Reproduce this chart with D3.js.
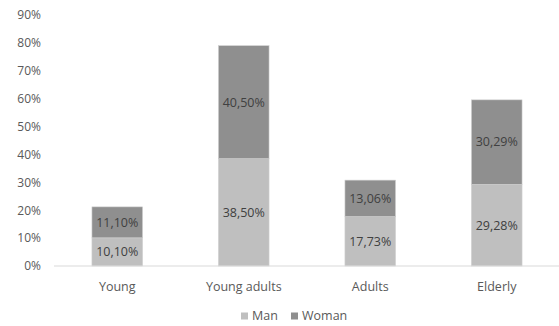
<!DOCTYPE html>
<html><head><meta charset="utf-8">
<script src="https://cdn.jsdelivr.net/npm/d3@7"></script>
<style>body{margin:0;background:#fff}svg{display:block}text{font-family:"Open Sans",sans-serif}</style>
</head><body><svg id="c" width="559" height="326"></svg>
<script>
const categories = ["Young", "Young adults", "Adults", "Elderly"];
const man = [10.10, 38.50, 17.73, 29.28];
const woman = [11.10, 40.50, 13.06, 30.29];
const seriesNames = ["Man", "Woman"];
const colors = ["#bfbfbf", "#8f8f8f"];
const yTicks = [0,10,20,30,40,50,60,70,80,90];

const svg = d3.select("#c");
const x = d3.scaleBand().domain(categories).range([54, 560]).paddingInner(0.6).paddingOuter(0.3);
const y = d3.scaleLinear().domain([0, 90]).range([266, 15]);

const fmt = v => v.toFixed(2).replace(".", ",") + "%";

// y axis labels
const yAxis = d3.axisLeft(y).tickValues(yTicks).tickFormat(d => d + "%").tickSize(0).tickPadding(0);
const gy = svg.append("g").attr("transform", "translate(41,0)").call(yAxis);
gy.select(".domain").remove();
gy.selectAll("text").attr("fill", "#595959").style("font-size", "12px").style("font-family", "Open Sans");

const rows = categories.map((c, i) => ({cat: c, Man: man[i], Woman: woman[i]}));
const stack = d3.stack().keys(seriesNames)(rows);

svg.append("g").selectAll("g").data(stack).join("g")
  .attr("fill", (d, i) => colors[i])
  .selectAll("rect").data(d => d).join("rect")
  .attr("x", d => x(d.data.cat))
  .attr("width", x.bandwidth())
  .attr("y", d => y(d[1]))
  .attr("height", d => y(d[0]) - y(d[1]))
  .attr("stroke", "#d0d0d0").attr("stroke-width", 0.6);

// x axis
const xAxis = d3.axisBottom(x).tickSize(0).tickPadding(16);
const gx = svg.append("g").attr("transform", "translate(0,266)").call(xAxis);
gx.select(".domain").attr("stroke", "#d9d9d9").attr("stroke-width", 1.2).attr("d", "M54,0H559");
gx.selectAll("text").attr("fill", "#595959").style("font-size", "12.5px").style("font-family", "Open Sans");

// value labels
stack.forEach(s => {
  svg.append("g").selectAll("text").data(s).join("text")
    .attr("x", d => x(d.data.cat) + x.bandwidth() / 2)
    .attr("y", d => (y(d[0]) + y(d[1])) / 2)
    .attr("dy", "0.35em")
    .attr("text-anchor", "middle")
    .attr("fill", "#404040")
    .style("font-size", "12.5px")
    .text(d => fmt(d[1] - d[0]));
});

// legend
const legX = [241, 291];
seriesNames.forEach((n, i) => {
  svg.append("rect").attr("x", legX[i]).attr("y", 312.5).attr("width", 7).attr("height", 7).attr("fill", colors[i]);
  svg.append("text").attr("x", legX[i] + 11).attr("y", 316).attr("dy", "0.35em")
    .attr("fill", "#595959").style("font-size", "12.5px").text(n);
});
</script></body></html>
